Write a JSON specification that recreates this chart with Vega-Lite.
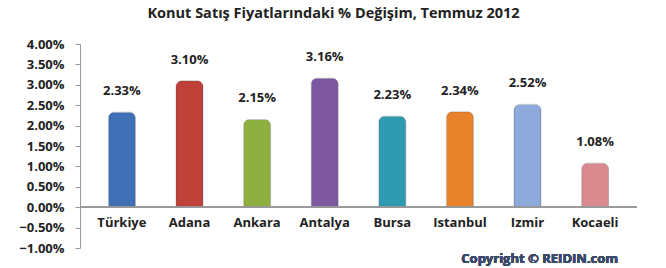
{
  "$schema": "https://vega.github.io/schema/vega-lite/v6.json",
  "autosize": "none",
  "width": 557,
  "height": 204,
  "padding": {"left": 80, "top": 44, "right": 29, "bottom": 20},
  "background": "white",
  "title": {
    "text": "Konut Satış Fiyatlarındaki % Değişim, Temmuz 2012",
    "font": "Open Sans",
    "fontSize": 14.5,
    "fontWeight": "bold",
    "color": "#222222",
    "anchor": "middle",
    "dx": -25,
    "offset": 17
  },
  "config": {"view": {"stroke": null}},
  "data": {
    "values": [
      {"il": "Türkiye", "degisim": 0.0233},
      {"il": "Adana", "degisim": 0.031},
      {"il": "Ankara", "degisim": 0.0215},
      {"il": "Antalya", "degisim": 0.0316},
      {"il": "Bursa", "degisim": 0.0223},
      {"il": "Istanbul", "degisim": 0.0234},
      {"il": "Izmir", "degisim": 0.0252},
      {"il": "Kocaeli", "degisim": 0.0108}
    ]
  },
  "encoding": {
    "x": {
      "field": "il",
      "type": "nominal",
      "sort": null,
      "scale": {"paddingInner": 0.6, "paddingOuter": 0.42},
      "axis": {
        "title": null,
        "orient": "bottom",
        "offset": -36,
        "domain": false,
        "ticks": false,
        "labelAngle": 0,
        "labelPadding": 4,
        "labelFont": "Open Sans",
        "labelFontSize": 13,
        "labelFontWeight": "bold",
        "labelColor": "#222222"
      }
    },
    "y": {
      "field": "degisim",
      "type": "quantitative",
      "scale": {"domain": [-0.01, 0.04], "nice": false},
      "axis": {
        "title": null,
        "format": ".2%",
        "values": [-0.01, -0.005, 0, 0.005, 0.01, 0.015, 0.02, 0.025, 0.03, 0.035, 0.04],
        "labelOverlap": false,
        "grid": false,
        "domainColor": "#999999",
        "tickColor": "#999999",
        "tickSize": 5,
        "labelPadding": 11,
        "labelFont": "Open Sans",
        "labelFontSize": 13,
        "labelFontWeight": "bold",
        "labelColor": "#222222"
      }
    }
  },
  "layer": [
    {
      "mark": {"type": "bar", "cornerRadiusTopLeft": 6, "cornerRadiusTopRight": 6, "stroke": "#555555", "strokeWidth": 0.5, "strokeOpacity": 0.5},
      "encoding": {
        "color": {
          "field": "il",
          "type": "nominal",
          "sort": null,
          "legend": null,
          "scale": {
            "domain": ["Türkiye", "Adana", "Ankara", "Antalya", "Bursa", "Istanbul", "Izmir", "Kocaeli"],
            "range": ["#3f6fb5", "#c0403a", "#8fb040", "#7d58a0", "#2e9bb2", "#e8822a", "#8eaadc", "#d88a8e"]
          }
        }
      }
    },
    {
      "mark": {"type": "text", "baseline": "bottom", "dy": -14, "font": "Open Sans", "fontSize": 13, "fontWeight": "bold", "color": "#222222"},
      "encoding": {
        "text": {"field": "degisim", "type": "quantitative", "format": ".2%"}
      }
    },
    {
      "mark": {"type": "rule", "color": "#999999", "strokeWidth": 1},
      "encoding": {"y": {"datum": 0}, "x": null}
    },
    {
      "mark": {"type": "text", "align": "right", "baseline": "middle", "dx": 23, "dy": 11, "font": "Open Sans", "fontSize": 13, "fontWeight": "bold", "color": "#3b4a6b", "text": "Copyright © REIDIN.com"},
      "encoding": {"x": {"datum": "Kocaeli"}, "y": {"datum": -0.01}}
    }
  ]
}
